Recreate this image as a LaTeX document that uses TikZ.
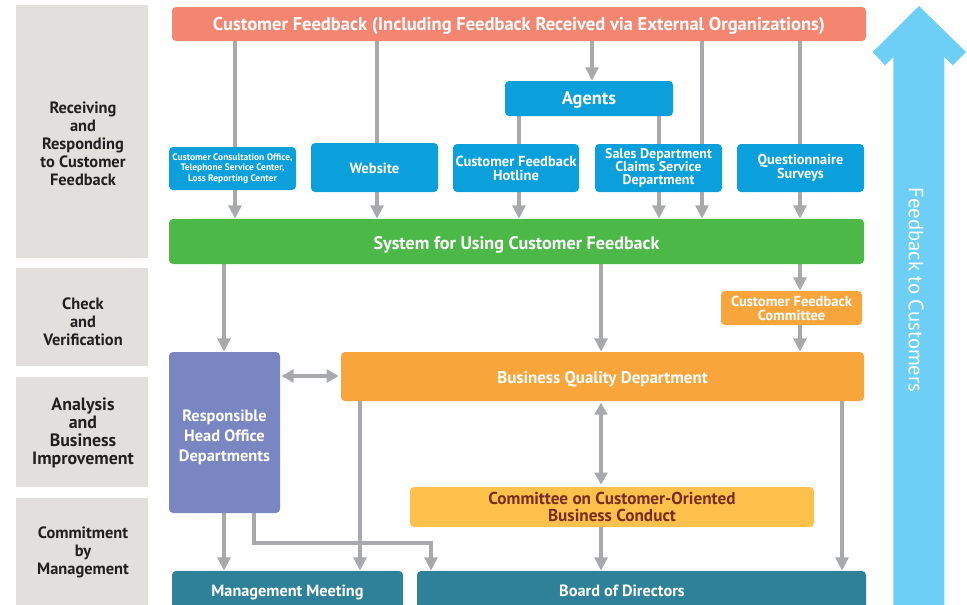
\documentclass[tikz,border=0pt]{standalone}
\usepackage{fontspec}
\setmainfont{PT Sans}
\usetikzlibrary{arrows.meta,backgrounds}
\definecolor{salmon}{HTML}{F48671}
\definecolor{bluebox}{HTML}{0BA0DC}
\definecolor{greenbox}{HTML}{4CB848}
\definecolor{orangebox}{HTML}{F8A53C}
\definecolor{yellowbox}{HTML}{FDC14C}
\definecolor{purplebox}{HTML}{7A86C2}
\definecolor{tealbox}{HTML}{2F8199}
\definecolor{arrowgray}{HTML}{A7A9AC}
\definecolor{panelgray}{HTML}{E3DFDD}
\definecolor{paneltext}{HTML}{231F20}
\definecolor{browntext}{HTML}{7A2C1E}
\definecolor{bigarrow}{HTML}{6DCFF6}
\newcommand{\pbox}[7]{\node[#2, minimum width={(#5-#3)*0.75pt}, minimum height={(#6-#4)*0.75pt}] (#1) at ({(#3+#5)/2},{(#4+#6)/2}) {#7};}
\tikzset{
  basebox/.style={rectangle, rounded corners=3pt, inner sep=0pt, align=center, text=white, font=\bfseries},
  oneline/.style={text height=0.95em, text depth=0.03em},
  salmonbox/.style={basebox, fill=salmon},
  bbox/.style={basebox, fill=bluebox},
  gbox/.style={basebox, fill=greenbox},
  obox/.style={basebox, fill=orangebox},
  ybox/.style={basebox, fill=yellowbox, text=browntext},
  pbx/.style={basebox, fill=purplebox},
  tbox/.style={basebox, fill=tealbox},
  boxtxt/.style={inner sep=0pt, align=center, text=white},
  panel/.style={rectangle, inner sep=0pt, fill=panelgray},
  paneltxt/.style={align=center, text=paneltext, font=\bfseries\fontsize{12.3}{13.5}\selectfont},
  conn/.style={draw=arrowgray, line width=3.3pt},
  arr/.style={conn, -{Triangle[width=9.5pt,length=10pt]}},
  darr/.style={conn, {Triangle[width=9.5pt,length=9pt]}-{Triangle[width=9.5pt,length=9pt]}}
}
\begin{document}
\begin{tikzpicture}[x=0.75pt,y=-0.75pt]
\useasboundingbox (0,0) rectangle (967,604);
% left panels
\pbox{p1}{panel}{16}{5}{148}{258}{}
\pbox{p2}{panel}{16}{268}{148}{366}{}
\pbox{p3}{panel}{16}{377}{148}{487}{}
\pbox{p4}{panel}{16}{498}{148}{612}{}
\node[paneltxt] (t1) at (83,143.5) {Receiving\\and\\Responding\\to Customer\\Feedback};
\node[paneltxt] (t2) at (83,322) {Check\\and\\Verification};
\node[paneltxt, font=\bfseries\fontsize{13.4}{13.6}\selectfont] (t3) at (83,433) {Analysis\\and\\Business\\Improvement};
\node[paneltxt] (t4) at (83,552) {Commitment\\by\\Management};
% big arrow
\fill[bigarrow] (919,6) -- (966,52) -- (952.7,65.4) -- (944.3,57) -- (944.3,612) -- (893.3,612) -- (893.3,57) -- (885,65.4) -- (872.7,52) -- cycle;
\node[rotate=-90, text=white, font=\fontsize{15.5}{17}\selectfont] (fb) at (916,290) {Feedback to Customers};
% boxes
\pbox{cf}{salmonbox, text height=1.0em, text depth=0.03em, font=\bfseries\fontsize{13.9}{15}\selectfont}{172}{7}{866}{41}{Customer Feedback (Including Feedback Received via External Organizations)}
\pbox{agents}{bbox, oneline, font=\bfseries\fontsize{13.8}{15}\selectfont}{505}{81}{673}{116}{Agents}
\pbox{cco}{bbox, font=\bfseries\fontsize{7.1}{8}\selectfont}{169}{147}{296}{190}{Customer Consultation Office,\\Telephone Service Center,\\Loss Reporting Center}
\pbox{web}{bbox, oneline, font=\bfseries\fontsize{11}{11}\selectfont}{311}{143}{438}{192}{Website}
\pbox{hot}{bbox, font=\bfseries\fontsize{10.9}{10.5}\selectfont}{453}{144}{579}{192}{Customer Feedback\\Hotline}
\pbox{sales}{bbox, font=\bfseries\fontsize{10.5}{9.9}\selectfont}{595}{144}{722}{192}{Sales Department\\Claims Service\\Department}
\pbox{quest}{bbox, font=\bfseries\fontsize{10.7}{10.5}\selectfont}{737}{144}{864}{192}{Questionnaire\\Surveys}
\pbox{sys}{gbox, text height=1.15em, text depth=0em, font=\bfseries\fontsize{13.6}{15}\selectfont}{169}{219}{864}{264}{System for Using Customer Feedback}
\pbox{cfc}{obox, font=\bfseries\fontsize{10.9}{10.5}\selectfont}{721}{291}{862}{325}{Customer Feedback\\Committee}
\pbox{bqd}{obox, text height=1.05em, text depth=0em, font=\bfseries\fontsize{12.7}{14}\selectfont}{341}{352}{864}{401}{Business Quality Department}
\pbox{resp}{pbx}{169}{352}{280}{513}{}
\node[boxtxt, font=\bfseries\fontsize{12.3}{15}\selectfont] (resptxt) at (224.5,437) {Responsible\\Head Office\\Departments};
\pbox{coc}{ybox, font=\bfseries\fontsize{12.9}{12.8}\selectfont}{410}{487}{814}{527}{Committee on Customer-Oriented\\Business Conduct}
\pbox{mm}{tbox, oneline, font=\bfseries\fontsize{12.2}{14}\selectfont}{172}{571}{403}{609}{Management Meeting}
\pbox{board}{tbox}{417}{571}{866}{609}{}
\node[boxtxt, oneline, font=\bfseries\fontsize{12.2}{14}\selectfont] (boardtxt) at (622,590) {Board of Directors};
% column and row coordinates
\coordinate (x235) at (235,0);
\coordinate (x377) at (377,0);
\coordinate (x519) at (519,0);
\coordinate (x592) at (592,0);
\coordinate (x659) at (659,0);
\coordinate (x702) at (702,0);
\coordinate (x800) at (800,0);
\coordinate (x224) at (224,0);
\coordinate (x601) at (601,0);
\coordinate (x360) at (360,0);
\coordinate (x842) at (842,0);
\coordinate (x254) at (254,0);
\coordinate (x431) at (431,0);
\coordinate (y376) at (0,376);
\coordinate (y543) at (0,543);
\begin{scope}[on background layer]
% from customer feedback
\draw[conn] (cf.south -| x235) -- (cco.north -| x235);
\draw[conn] (cf.south -| x377) -- (web.north -| x377);
\draw[arr] (cf.south -| x592) -- (agents.north -| x592);
\draw[arr] (cf.south -| x702) -- (sys.north -| x702);
\draw[conn] (cf.south -| x800) -- (quest.north -| x800);
\draw[conn] (agents.south -| x519) -- (hot.north -| x519);
\draw[conn] (agents.south -| x659) -- (sales.north -| x659);
% into system
\draw[arr] (cco.south -| x235) -- (sys.north -| x235);
\draw[arr] (web.south -| x377) -- (sys.north -| x377);
\draw[arr] (hot.south -| x519) -- (sys.north -| x519);
\draw[arr] (sales.south -| x659) -- (sys.north -| x659);
\draw[arr] (quest.south -| x800) -- (sys.north -| x800);
% from system
\draw[arr] (sys.south -| x224) -- (resp.north -| x224);
\draw[arr] (sys.south -| x601) -- (bqd.north -| x601);
\draw[arr] (sys.south -| x800) -- (cfc.north -| x800);
\draw[arr] (cfc.south -| x800) -- (bqd.north -| x800);
% analysis
\draw[darr, shorten <=1pt, shorten >=1.5pt] (resp.east |- y376) -- (bqd.west |- y376);
\draw[darr, shorten <=1pt, shorten >=1.5pt] (bqd.south -| x601) -- (coc.north -| x601);
% to management
\draw[arr] (bqd.south -| x360) -- (mm.north -| x360);
\draw[arr] (bqd.south -| x842) -- (board.north -| x842);
\draw[arr] (coc.south -| x601) -- (board.north -| x601);
\draw[arr] (resp.south -| x224) -- (mm.north -| x224);
\draw[arr] (resp.south -| x254) |- (x431 |- y543) -- (board.north -| x431);
\end{scope}
\end{tikzpicture}
\end{document}
